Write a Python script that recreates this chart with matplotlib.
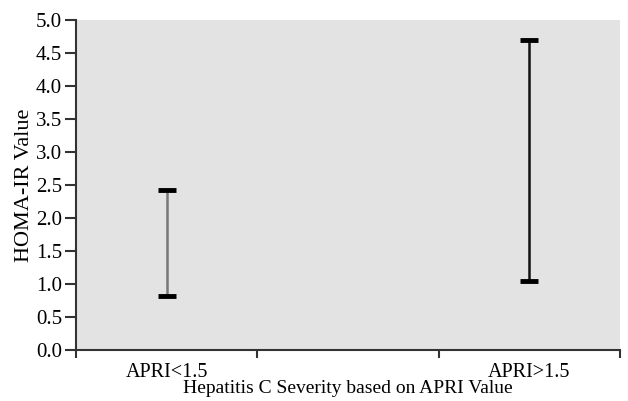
import matplotlib.pyplot as plt
import numpy as np

plt.rcParams['font.family'] = ['Liberation Serif', 'DejaVu Serif']

categories = ['APRI<1.5', '', 'APRI>1.5']
low = [0.82, None, 1.05]
high = [2.42, None, 4.70]
line_colors = ['#777777', None, '#111111']

fig = plt.figure(figsize=(6.28, 4.01), dpi=100)
ax = fig.add_axes([0.121, 0.127, 0.866, 0.823])
ax.set_facecolor('#e3e3e3')

for i, (lo, hi, c) in enumerate(zip(low, high, line_colors)):
    if lo is None:
        continue
    mid = (lo + hi) / 2
    ax.errorbar([i], [mid], yerr=[[mid - lo], [hi - mid]], fmt='none',
                ecolor=c, elinewidth=1.8, capsize=0)
    ax.plot([i - 0.05, i + 0.05], [lo, lo], color='black', lw=3.5, solid_capstyle='butt')
    ax.plot([i - 0.05, i + 0.05], [hi, hi], color='black', lw=3.5, solid_capstyle='butt')

ax.set_xlim(-0.5, 2.5)
ax.set_ylim(0, 5.0)
ax.set_yticks(np.arange(0, 5.01, 0.5))
ax.set_yticklabels([f'{v:.1f}' for v in np.arange(0, 5.01, 0.5)])
ax.set_xticks(range(len(categories)))
ax.set_xticklabels(categories)
ax.set_xticks([-0.5, 0.5, 1.5, 2.5], minor=True)
ax.tick_params(axis='x', which='major', length=0, pad=9, labelsize=14.5)
ax.tick_params(axis='x', which='minor', length=6, width=1.5, color='#333333')
ax.tick_params(axis='y', length=8, width=1.5, color='#333333', labelsize=15, pad=2)

for s in ['top', 'right']:
    ax.spines[s].set_visible(False)
for s in ['left', 'bottom']:
    ax.spines[s].set_color('#333333')
    ax.spines[s].set_linewidth(1.5)

ax.set_ylabel('HOMA-IR Value', fontsize=16, labelpad=1)
ax.set_xlabel('Hepatitis C Severity based on APRI Value', fontsize=14, labelpad=-1)

fig.savefig('out.png', dpi=100)
